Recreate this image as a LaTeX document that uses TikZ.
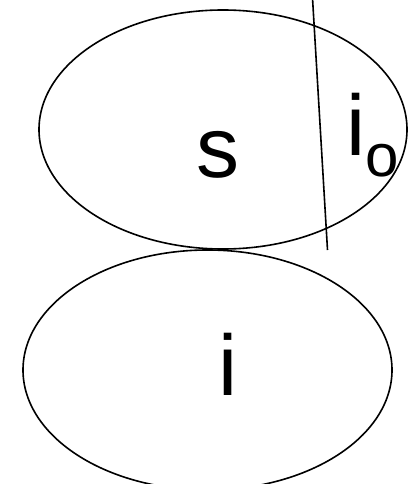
\documentclass[tikz,border=0pt]{standalone}
\usepackage{fontspec}
\setmainfont{Liberation Sans}
\usetikzlibrary{shapes.geometric}
\tikzset{
  blob/.style={draw, ellipse, line width=1.6pt, inner sep=0pt},
  lbl/.style={inner sep=0pt, anchor=base},
  cut/.style={draw, line width=1.6pt}
}
\begin{document}
\begin{tikzpicture}[x=1pt,y=1pt]
\useasboundingbox (0,0) rectangle (417,-484);
\node[blob, minimum width=368pt, minimum height=239pt] (S) at (223,-129.5) {};
\node[blob, minimum width=369pt, minimum height=240pt] (I) at (207.5,-370) {};
\node[lbl] (s) at (218,-177) {\fontsize{86}{86}\selectfont s};
\node[lbl] (i) at (228.5,-395) {\fontsize{86}{86}\selectfont i};
\node[lbl, anchor=base west] (io) at (346,-155) {{\fontsize{86}{86}\selectfont i}{\fontsize{60}{60}\selectfont\raisebox{-21pt}{o}}};
\coordinate (a) at (312.5,2);
\coordinate (b) at (327.5,-250);
\draw[cut] (a) -- (b);
\end{tikzpicture}
\end{document}
